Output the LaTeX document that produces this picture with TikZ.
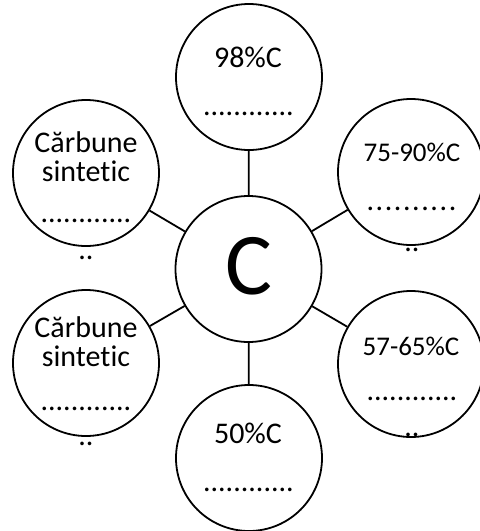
\documentclass[tikz,border=0pt]{standalone}
\usepackage{fontspec}
\setmainfont{Carlito}[Ligatures=CommonOff]
\newcommand\dotrow[2]{\makebox[#1]{.\foreach \i in {2,...,#2}{\hfill.}}}
\begin{document}
\begin{tikzpicture}[x=1pt,y=-1pt,
  bub/.style={draw,circle,line width=1.8pt,minimum size=146pt,inner sep=0pt},
  lbl/.style={anchor=base,inner sep=0pt,font=\fontsize{30}{34}\selectfont},
  slbl/.style={lbl,font=\fontsize{27}{31}\selectfont},
  con/.style={line width=1.8pt}]
\useasboundingbox (0,0) rectangle (480,531);
\node[bub] (c) at (248.5,269) {};
\node[bub] (t) at (249,77) {};
\node[bub] (lu) at (86,173) {};
\node[bub] (ru) at (411,172) {};
\node[bub] (ll) at (86,363) {};
\node[bub] (rl) at (411,364) {};
\node[bub] (b) at (249,458) {};
\draw[con] (c) -- (t);
\draw[con] (c) -- (lu);
\draw[con] (c) -- (ru);
\draw[con] (c) -- (ll);
\draw[con] (c) -- (rl);
\draw[con] (c) -- (b);
\node[anchor=center,inner sep=0pt,font=\fontsize{88}{90}\selectfont] (cl) at (249,266) {C};
% top
\node[lbl] (t1) at (248,67) {98\%C};
\node[lbl] (t2) at (248.5,115) {\dotrow{88pt}{12}};
% left upper
\node[lbl] (lu1) at (86,152) {Cărbune};
\node[lbl] (lu2) at (86,181) {sintetic};
\node[lbl] (lu3) at (86,222) {\dotrow{89pt}{12}};
\node[lbl] (lu4) at (86,259) {\dotrow{10pt}{2}};
% right upper
\node[slbl] (ru1) at (412,161) {75-90\%C};
\node[lbl] (ru2) at (411.5,210) {\dotrow{90pt}{10}};
\node[lbl] (ru4) at (412,251) {\dotrow{10pt}{2}};
% left lower
\node[lbl] (ll1) at (86,337) {Cărbune};
\node[lbl] (ll2) at (86,366) {sintetic};
\node[lbl] (ll3) at (86,410) {\dotrow{89pt}{12}};
\node[lbl] (ll4) at (86,445) {\dotrow{10pt}{2}};
% right lower
\node[slbl] (rl1) at (411,355) {57-65\%C};
\node[lbl] (rl2) at (412,400) {\dotrow{89pt}{12}};
\node[lbl] (rl4) at (412,436) {\dotrow{10pt}{2}};
% bottom
\node[lbl] (b1) at (248,443) {50\%C};
\node[lbl] (b2) at (248.5,491) {\dotrow{88pt}{12}};
\end{tikzpicture}
\end{document}
